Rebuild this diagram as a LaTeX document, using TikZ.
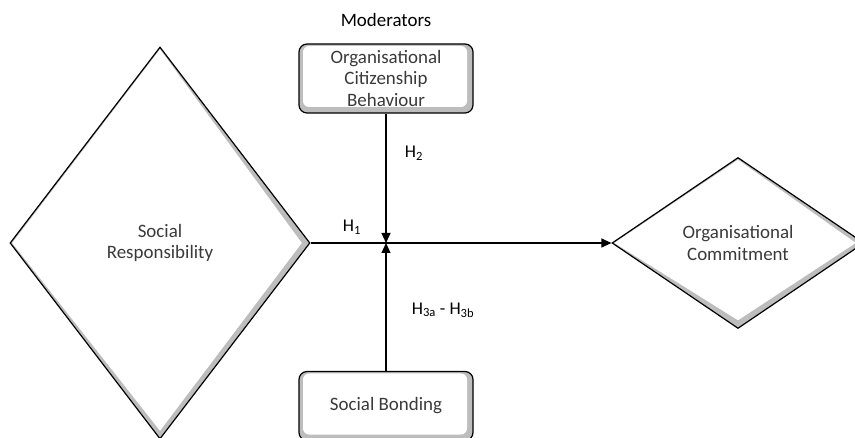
\documentclass[tikz,border=0pt]{standalone}
\usepackage{fontspec}
\setmainfont{Carlito}
\usetikzlibrary{arrows.meta,positioning,shapes.geometric}
\definecolor{ink}{HTML}{3A3A3A}
\definecolor{bevel}{HTML}{BDBDBD}
\tikzset{
  constructbox/.style={diamond, draw=black, line width=1.2bp, fill=bevel,
    inner sep=0pt, align=center, font=\fontsize{19}{21.5}\selectfont, text=ink,
    path picture={\fill[white]
      ([yshift=-2bp]path picture bounding box.north) --
      ([xshift=2bp]path picture bounding box.west) --
      ([yshift=8bp]path picture bounding box.south) --
      ([xshift=-8bp]path picture bounding box.east) -- cycle;}},
  moderatorbox/.style={rectangle, rounded corners=8bp, draw=black, line width=1.2bp,
    fill=bevel, minimum width=174bp, minimum height=69bp, inner sep=0pt,
    align=center, font=\fontsize{19}{21.5}\selectfont, text=ink,
    path picture={\fill[white, rounded corners=6bp]
      ([shift={(4bp,-2bp)}]path picture bounding box.north west) rectangle
      ([shift={(-6bp,6bp)}]path picture bounding box.south east);}},
  hyparrow/.style={-{Triangle[length=10bp,width=9bp]}, line width=1.2bp},
  hyplabel/.style={font=\fontsize{18}{20}\selectfont, text=black}
}
\begin{document}
\begin{tikzpicture}[x=1bp,y=-1bp]
  \useasboundingbox (0,0) rectangle (855,438);
  % constructs
  \node[constructbox, minimum width=300bp, minimum height=392bp]
    (sr) at (160,243) {Social\\Responsibility};
  \node[constructbox, minimum width=252bp, minimum height=171bp]
    (oc) at (738,243) {Organisational\\Commitment};

  % moderators
  \node[hyplabel, font=\fontsize{19}{21}\selectfont] (mod) at (386,20) {Moderators};
  \node[moderatorbox] (ocb) at (386,78.5) {Organisational\\Citizenship\\Behaviour};
  \node[moderatorbox] (sb) at (386,406) {Social Bonding};
  \coordinate (hub) at (ocb.south |- sr.east);

  % hypotheses
  \draw[hyparrow] (sr.east) -- (oc.west);
  \draw[hyparrow] (ocb.south) -- (hub);
  \draw[hyparrow] (sb.north) -- (hub);
  \node[hyplabel] (h1) at (352,227) {H\textsubscript{1}};
  \node[hyplabel] (h2) at (414,153) {H\textsubscript{2}};
  \node[hyplabel] (h3) at (443,310) {H\textsubscript{3a} - H\textsubscript{3b}};
\end{tikzpicture}
\end{document}
